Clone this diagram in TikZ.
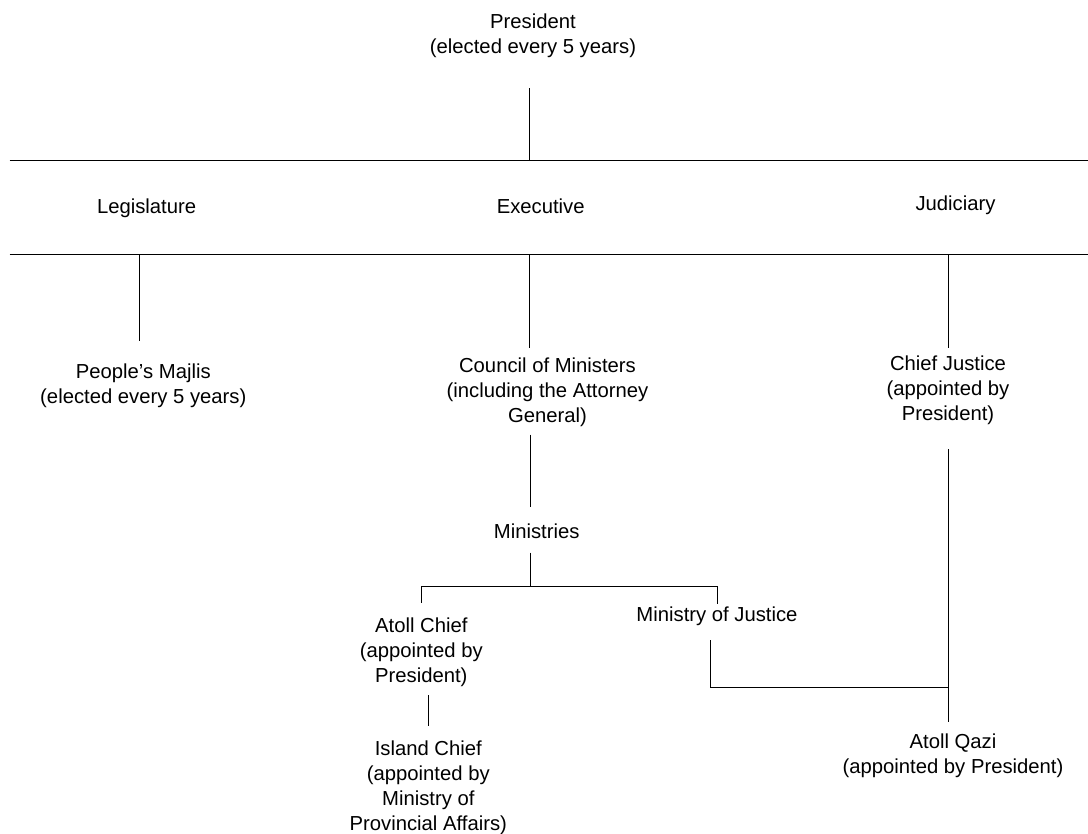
\documentclass[tikz,border=0pt]{standalone}
\usepackage{fontspec}
\setmainfont{Liberation Sans}
\begin{document}
\begin{tikzpicture}[x=0.75pt,y=-0.75pt,
  lbl/.style={align=center,anchor=base,inner sep=0pt,font=\fontsize{15.2}{18.75}\selectfont},
  conn/.style={draw=black,line width=0.75pt}]
\useasboundingbox (0,0) rectangle (1088,834);
% labels (anchor = baseline of the last line)
\node[lbl] (pres) at (533,53.3) {President\\(elected every 5 years)};
\node[lbl] (leg) at (146.6,214) {Legislature};
\node[lbl] (exe) at (540.7,213.3) {Executive};
\node[lbl] (jud) at (955.5,210.7) {Judiciary};
\node[lbl] (maj) at (143.3,403.3) {People’s Majlis\\(elected every 5 years)};
\node[lbl] (com) at (547.5,422) {Council of Ministers\\(including the Attorney\\General)};
\node[lbl] (cj) at (948,420) {Chief Justice\\(appointed by\\President)};
\node[lbl] (min) at (536.7,538.3) {Ministries};
\node[lbl] (moj) at (717,621.7) {Ministry of Justice};
\node[lbl] (ac) at (421.3,682) {Atoll Chief\\(appointed by\\President)};
\node[lbl] (ic) at (428.3,830) {Island Chief\\(appointed by\\Ministry of\\Provincial Affairs)};
\node[lbl] (aq) at (953,773.3) {Atoll Qazi\\(appointed by President)};
% connector end points
\coordinate (presS) at (529.7,88.3);
\coordinate (barA) at (529.7,160.7);
\coordinate (barAL) at (9.7,160.7);
\coordinate (barAR) at (1088,160.7);
\coordinate (barBL) at (9.7,254.7);
\coordinate (barBR) at (1088,254.7);
\coordinate (legT) at (139.8,254.7);
\coordinate (majN) at (139.8,341);
\coordinate (exeT) at (529.7,254.7);
\coordinate (comN) at (529.7,347.7);
\coordinate (judT) at (948.3,254.7);
\coordinate (cjN) at (948.3,347.7);
\coordinate (comS) at (530,434.5);
\coordinate (minN) at (530,507);
\coordinate (minS) at (530,552.7);
\coordinate (forkM) at (530,586);
\coordinate (forkL) at (421.3,586);
\coordinate (forkR) at (717.3,586);
\coordinate (acN) at (421.3,602.7);
\coordinate (mojN) at (717.3,604.3);
\coordinate (acS) at (428.7,695);
\coordinate (icN) at (428.7,726);
\coordinate (mojS) at (710.3,640);
\coordinate (mojJ) at (710.3,687.3);
\coordinate (cjJ) at (948.3,687.3);
\coordinate (cjS) at (948.3,449.3);
\coordinate (aqN) at (948.3,721.7);
% connectors
\draw[conn] (presS) -- (barA);
\draw[conn] (barAL) -- (barAR);
\draw[conn] (barBL) -- (barBR);
\draw[conn] (legT) -- (majN);
\draw[conn] (exeT) -- (comN);
\draw[conn] (judT) -- (cjN);
\draw[conn] (comS) -- (minN);
\draw[conn] (minS) -- (forkM);
\draw[conn] (acN) -- (forkL) -- (forkR) -- (mojN);
\draw[conn] (acS) -- (icN);
\draw[conn] (mojS) -- (mojJ) -- (cjJ);
\draw[conn] (cjS) -- (aqN);
\end{tikzpicture}
\end{document}
